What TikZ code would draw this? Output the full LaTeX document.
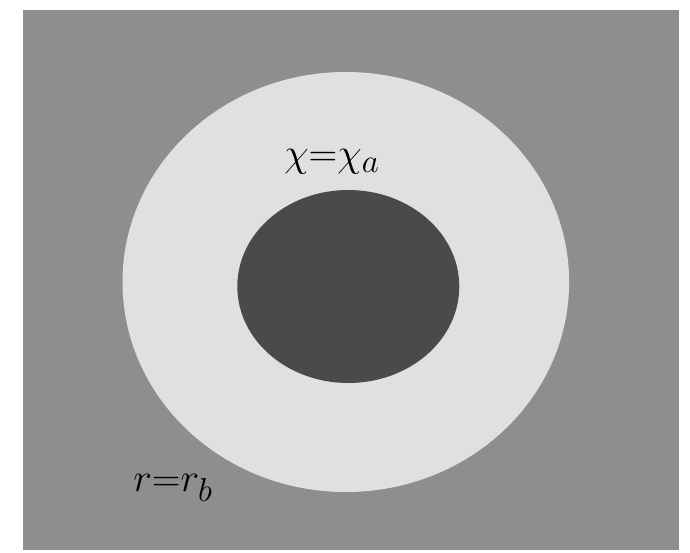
\documentclass[tikz,border=0pt]{standalone}
\usepackage{tikz}
\usetikzlibrary{positioning}

\definecolor{fieldgray}{HTML}{8E8E8E}
\definecolor{ringgray}{HTML}{E0E0E0}
\definecolor{coregray}{HTML}{4A4A4A}

\begin{document}
\begin{tikzpicture}[x=1pt, y=-1pt,
    lab/.style={inner sep=0pt, font=\Huge, scale=1.6, transform shape}]
  \useasboundingbox (0,0) rectangle (690,553);
  % background, ring and core
  \fill[fieldgray] (23,10) rectangle (679,550);
  \fill[ringgray] (345.8,282) ellipse [x radius=223.3, y radius=210];
  \fill[coregray] (348.3,286.5) ellipse [x radius=111, y radius=96.5];

  \node[lab] (chia) at (332,162) {$\chi{=}\chi_a$};
  \node[lab] (rb) at (173,488) {$r{=}r_b$};
\end{tikzpicture}
\end{document}
